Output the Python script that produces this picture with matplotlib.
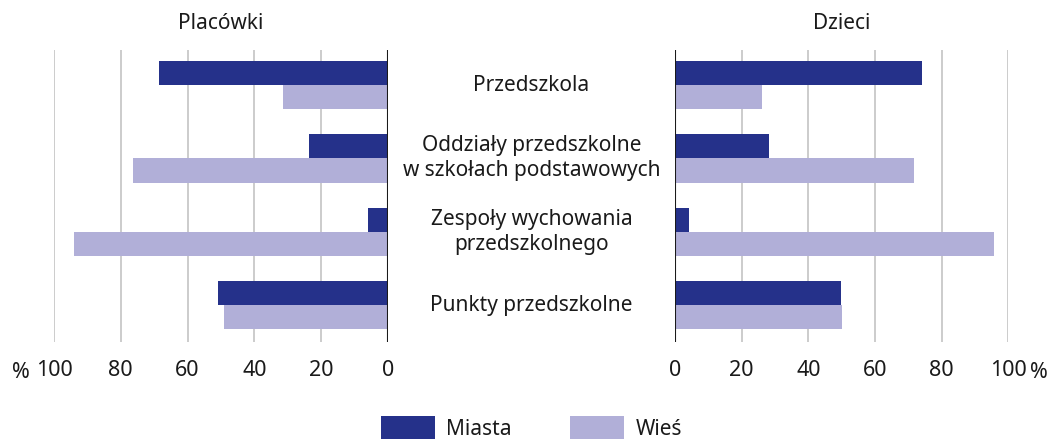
import matplotlib
matplotlib.use('Agg')

import matplotlib.pyplot as plt
import matplotlib.transforms as mtransforms
import numpy as np

plt.rcParams['font.family'] = ['Noto Sans', 'DejaVu Sans']

# Dane
kategorie = ['Przedszkola', 'Oddziały przedszkolne\nw szkołach podstawowych',
             'Zespoły wychowania\nprzedszkolnego', 'Punkty przedszkolne']
placowki_miasta = [68.6, 23.8, 5.9, 50.8]
placowki_wies = [31.4, 76.2, 94.1, 49.2]
dzieci_miasta = [74.0, 28.3, 4.3, 49.8]
dzieci_wies = [26.0, 71.7, 95.7, 50.2]
ticki = [0, 20, 40, 60, 80, 100]

kolor_miasta = '#25318a'
kolor_wies = '#b1afd8'
kolor_tekstu = '#1a1a1a'
fs = 15
fs_tick = 15.5

fig = plt.figure(figsize=(10.52, 4.41), dpi=100)
W, H = 1052, 441
ax_l = fig.add_axes([54 / W, 1 - 341.7 / H, 334 / W, 291.7 / H])
ax_r = fig.add_axes([675 / W, 1 - 341.7 / H, 333.3 / W, 291.7 / H])

y = np.arange(len(kategorie))
h = 0.328

for ax, miasta, wies, tytul in [(ax_l, placowki_miasta, placowki_wies, 'Placówki'),
                                (ax_r, dzieci_miasta, dzieci_wies, 'Dzieci')]:
    ax.barh(y - h / 2, miasta, h, color=kolor_miasta, label='Miasta', zorder=3)
    ax.barh(y + h / 2, wies, h, color=kolor_wies, label='Wieś', zorder=3)
    ax.set_ylim(3.5, -0.48)
    ax.set_xticks(ticks=ticki, labels=[str(t) for t in ticki])
    ax.set_yticks([])
    ax.tick_params(axis='x', length=0, pad=13, labelsize=fs_tick, labelcolor=kolor_tekstu)
    ax.grid(axis='x', color='#c8c8c8', linewidth=1.3, zorder=0)
    for s in ax.spines.values():
        s.set_visible(False)
    ax.axvline(0, color='#1a1a1a', linewidth=1.5, zorder=4)
    ax.set_title(tytul, fontsize=fs, color=kolor_tekstu, pad=15)

ax_l.set_xlim(100, 0)
ax_r.set_xlim(0, 100)

# znaki procentu obok 100
fig.text(12 / W, 1 - 370 / H, '%', fontsize=fs_tick, color=kolor_tekstu, ha='left', va='center_baseline')
fig.text(1048 / W, 1 - 370 / H, '%', fontsize=fs_tick, color=kolor_tekstu, ha='right', va='center_baseline')

# etykiety kategorii pośrodku
trans = mtransforms.blended_transform_factory(fig.transFigure, ax_l.transData)
for i, kat in enumerate(kategorie):
    ax_l.text(531.5 / W, i, kat, transform=trans, ha='center', va='center',
              fontsize=fs, color=kolor_tekstu, linespacing=1.25, clip_on=False)

handles, labels = ax_l.get_legend_handles_labels()
fig.legend(handles, labels, loc='center', bbox_to_anchor=(531.5 / W, 1 - 428 / H), ncol=2,
           frameon=False, fontsize=fs, handlelength=2.6, handleheight=1.3,
           handletextpad=0.53, columnspacing=2.8, labelcolor=kolor_tekstu)

fig.savefig('out.png', dpi=100)
